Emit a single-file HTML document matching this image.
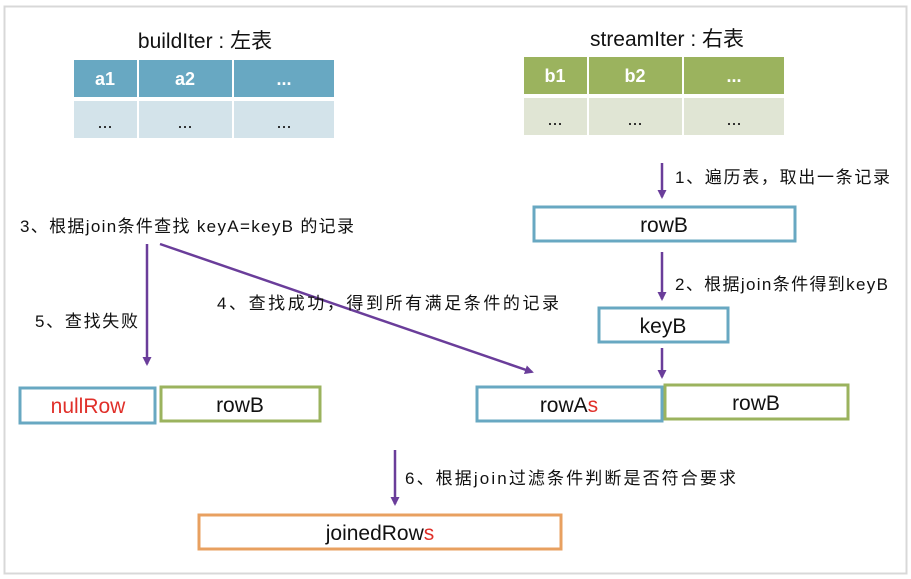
<!DOCTYPE html>
<html><head><meta charset="utf-8"><style>
html,body{margin:0;padding:0;background:#fff;width:911px;height:579px;overflow:hidden}
text{font-family:"Liberation Sans","Noto Sans CJK SC",sans-serif}
</style></head><body>
<svg width="911" height="579" xmlns="http://www.w3.org/2000/svg">
<defs><marker id="ah" markerWidth="9" markerHeight="9" refX="7" refY="4.5" orient="auto" markerUnits="userSpaceOnUse"><path d="M0,0 L9,4.5 L0,9 z" fill="#6a3d9a"/></marker></defs>
<rect x="4.5" y="6.5" width="902" height="567" fill="#fff" stroke="#d8d8d8" stroke-width="2"/>
<text x="205" y="48" font-size="21" text-anchor="middle" fill="#111">buildIter : 左表</text>
<g fill="#68a8c2"><rect x="74" y="60" width="63" height="37"/><rect x="139" y="60" width="93" height="37"/><rect x="234" y="60" width="100" height="37"/></g>
<g fill="#d3e3ea"><rect x="74" y="101" width="63" height="37"/><rect x="139" y="101" width="93" height="37"/><rect x="234" y="101" width="100" height="37"/></g>
<g font-size="18" font-weight="bold" fill="#fff" text-anchor="middle"><text x="105" y="85">a1</text><text x="185" y="85">a2</text><text x="284" y="85">...</text></g>
<g font-size="18" fill="#111" text-anchor="middle"><text x="105" y="128">...</text><text x="185" y="128">...</text><text x="284" y="128">...</text></g>
<text x="667" y="46" font-size="21" text-anchor="middle" fill="#111">streamIter : 右表</text>
<g fill="#9bb35e"><rect x="524" y="57" width="63" height="37"/><rect x="589" y="57" width="93" height="37"/><rect x="684" y="57" width="100" height="37"/></g>
<g fill="#e0e5d4"><rect x="524" y="98" width="63" height="37"/><rect x="589" y="98" width="93" height="37"/><rect x="684" y="98" width="100" height="37"/></g>
<g font-size="18" font-weight="bold" fill="#fff" text-anchor="middle"><text x="555" y="82">b1</text><text x="635" y="82">b2</text><text x="734" y="82">...</text></g>
<g font-size="18" fill="#111" text-anchor="middle"><text x="555" y="125">...</text><text x="635" y="125">...</text><text x="734" y="125">...</text></g>
<g stroke="#6a3d9a" stroke-width="2.5" fill="none" marker-end="url(#ah)">
<line x1="662" y1="163" x2="662" y2="197"/>
<line x1="662" y1="252" x2="662" y2="299"/>
<line x1="662" y1="348" x2="662" y2="377"/>
<line x1="147" y1="244" x2="147" y2="364"/>
<line x1="160" y1="244" x2="532" y2="372"/>
<line x1="395" y1="450" x2="395" y2="504"/>
</g>
<g font-size="17" fill="#111" letter-spacing="1">
<text x="675" y="183" textLength="216">1、遍历表，取出一条记录</text>
<text x="675" y="290" textLength="214">2、根据join条件得到keyB</text>
<text x="20" y="232" textLength="335">3、根据join条件查找 keyA=keyB 的记录</text>
<text x="217" y="309" textLength="343">4、查找成功，得到所有满足条件的记录</text>
<text x="35" y="327" textLength="104">5、查找失败</text>
<text x="405" y="484" textLength="332">6、根据join过滤条件判断是否符合要求</text>
</g>
<g fill="#fff" stroke-width="3">
<rect x="534" y="207" width="261" height="34" stroke="#68a8c2"/>
<rect x="599" y="308" width="129" height="34" stroke="#68a8c2"/>
<rect x="477" y="387" width="185" height="34" stroke="#68a8c2"/>
<rect x="665" y="385" width="183" height="34" stroke="#9bb35e"/>
<rect x="20" y="388" width="135" height="35" stroke="#68a8c2"/>
<rect x="161" y="387" width="159" height="34" stroke="#9bb35e"/>
<rect x="199" y="515" width="362" height="34" stroke="#e8a060"/>
</g>
<g font-size="21" fill="#111" text-anchor="middle">
<text x="664" y="232">rowB</text>
<text x="663" y="333">keyB</text>
<text x="569" y="412">rowA<tspan fill="#e0302a">s</tspan></text>
<text x="756" y="410">rowB</text>
<text x="88" y="413" fill="#e0302a">nullRow</text>
<text x="240" y="412">rowB</text>
<text x="380" y="540">joinedRow<tspan fill="#e0302a">s</tspan></text>
</g>
</svg>
</body></html>
